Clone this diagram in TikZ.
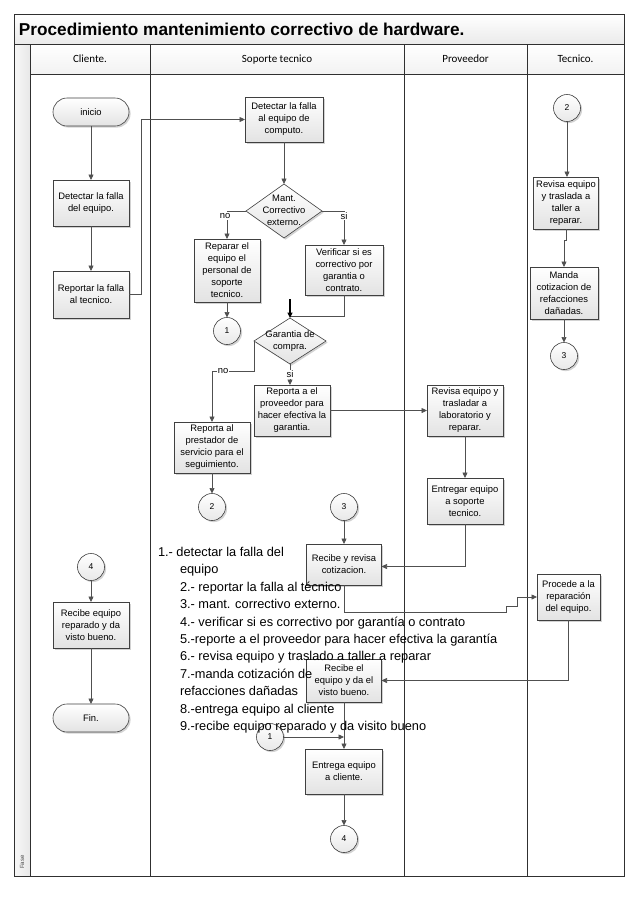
\documentclass[tikz,border=0pt]{standalone}
\usepackage{fontspec}
\setmainfont{Liberation Sans}
\newfontfamily\hdrfnt{Carlito}
\usetikzlibrary{shapes.geometric,shapes.misc,arrows.meta,shadows,calc}
\definecolor{boxline}{HTML}{404040}
\definecolor{arrcol}{HTML}{505050}
\definecolor{lanecol}{HTML}{303030}
\newcommand{\nfnt}{\fontsize{9.4}{12}\selectfont}
\newcommand{\cfnt}{\fontsize{8.5}{10}\selectfont}
\newcommand{\listfnt}{\fontsize{12.8}{17}\selectfont}
\begin{document}
\begin{tikzpicture}[x=1pt,y=-1pt,
  every node/.style={inner sep=0pt, outer sep=0pt},
  shad/.style={drop shadow={shadow xshift=1.6pt, shadow yshift=-1.6pt, fill=black!35, opacity=0.5}},
  proc/.style={rectangle, draw=boxline, line width=0.6pt, top color=white, bottom color=black!11, shad, align=center, font=\nfnt},
  term/.style={rounded rectangle, draw=boxline, line width=0.6pt, top color=white, bottom color=black!11, shad, minimum width=76pt, minimum height=28pt, font=\nfnt},
  conn/.style={circle, draw=boxline, line width=0.6pt, top color=white, bottom color=black!9, shad, minimum size=27pt, font=\cfnt},
  dec/.style={diamond, draw=boxline, line width=0.6pt, top color=white, bottom color=black!11, shad},
  dtext/.style={align=center, font=\nfnt},
  arr/.style={draw=arrcol, line width=0.7pt, -{Triangle[length=5.5pt,width=5pt]}},
  con/.style={draw=arrcol, line width=0.7pt},
  lbl/.style={fill=white, font=\nfnt, inner sep=1pt},
  lane/.style={draw=lanecol, line width=0.8pt},
  hdr/.style={font=\hdrfnt\fontsize{11}{13}\selectfont, text height=7.5pt, text depth=2pt},
  listline/.style={anchor=base west, font=\listfnt}
]
\useasboundingbox (0,0) rectangle (638,903);
\fill[white] (0,0) rectangle (638,903);

% ---------- swimlane frame ----------
\shade[top color=white, bottom color=black!8] (14,14) rectangle (624,44);
\shade[top color=white, bottom color=black!5] (30,44) rectangle (624,74);
\shade[left color=black!3, right color=black!9] (14,44) rectangle (30,876);
\draw[lane] (14,14) rectangle (624,876);
\draw[lane] (14,44) -- (624,44);
\draw[lane] (30,74) -- (624,74);
\draw[lane] (30,44) -- (30,876);
\draw[lane] (150,44) -- (150,876);
\draw[lane] (404,44) -- (404,876);
\draw[lane] (527,44) -- (527,876);

\node[anchor=west, font=\bfseries\fontsize{17.2}{20}\selectfont] (title) at (19,29) {Procedimiento mantenimiento correctivo de hardware.};
\node[hdr] (h1) at (90,59.5) {Cliente.};
\node[hdr] (h2) at (277,59.5) {Soporte tecnico};
\node[hdr] (h3) at (465.5,59.5) {Proveedor};
\node[hdr] (h4) at (575.5,59.5) {Tecnico.};
\node[rotate=90, font=\fontsize{6}{7}\selectfont, text=black!70] (fase) at (22,862) {Fase};

% ---------- Cliente ----------
\node[term] (inicio) at (91,112) {inicio};
\node[proc, minimum width=76pt, minimum height=46pt] (detc) at (91,203) {Detectar la falla\\del equipo.};
\node[proc, minimum width=76pt, minimum height=47pt] (repc) at (91,294.5) {Reportar la falla\\al tecnico.};
\node[conn] (c4a) at (91,567) {4};
\node[proc, minimum width=76pt, minimum height=46pt] (recc) at (91,625) {Recibe equipo\\reparado y da\\visto bueno.};
\node[term] (fin) at (91,718) {Fin.};

% ---------- Soporte tecnico ----------
\node[proc, minimum width=78pt, minimum height=45pt] (dets) at (284,119.5) {Detectar la falla\\al equipo de\\computo.};
\node[dec, minimum width=76pt, minimum height=54pt] (d1) at (284,211) {};
\node[dtext] (d1t) at (284,210) {Mant.\\Correctivo\\externo.};
\node[proc, minimum width=66pt, minimum height=63pt] (repar) at (227,270.5) {Reparar el\\equipo el\\personal de\\soporte\\tecnico.};
\node[conn] (c1a) at (227,331) {1};
\node[proc, minimum width=78pt, minimum height=50pt] (verif) at (344,270) {Verificar si es\\correctivo por\\garantia o\\contrato.};
\node[dec, minimum width=72pt, minimum height=46pt] (d2) at (290,341) {};
\node[dtext] (d2t) at (290,341) {Garantia de\\compra.};
\node[proc, minimum width=76pt, minimum height=51pt] (repprov) at (292,410.5) {Reporta a el\\proveedor para\\hacer efectiva la\\garantia.};
\node[proc, minimum width=76pt, minimum height=51pt] (prest) at (212,447.5) {Reporta al\\prestador de\\servicio para el\\seguimiento.};
\node[conn] (c2a) at (212,507) {2};
\node[conn] (c3a) at (344,507) {3};
\node[proc, minimum width=75pt, minimum height=41pt] (recot) at (344,564.5) {Recibe y revisa\\cotizacion.};
\node[proc, minimum width=75pt, minimum height=43pt] (reok) at (344,680.5) {Recibe el\\equipo y da el\\visto bueno.};
\node[conn] (c1b) at (270,737) {1};
\node[proc, minimum width=77pt, minimum height=45pt] (entc) at (344,771.5) {Entrega equipo\\a cliente.};
\node[conn] (c4b) at (344,839) {4};

% ---------- Proveedor ----------
\node[proc, minimum width=76pt, minimum height=51pt] (revp) at (465,410.5) {Revisa equipo y\\trasladar a\\laboratorio y\\reparar.};
\node[proc, minimum width=76pt, minimum height=46pt] (entp) at (465,501) {Entregar equipo\\a soporte\\tecnico.};

% ---------- Tecnico ----------
\node[conn] (c2t) at (567,108) {2};
\node[proc, minimum width=65pt, minimum height=52pt] (revt) at (566,203) {Revisa equipo\\y traslada a\\taller a\\reparar.};
\node[proc, minimum width=68pt, minimum height=52pt] (manda) at (564,293) {Manda\\cotizacion de\\refacciones\\dañadas.};
\node[conn] (c3t) at (564,356) {3};
\node[proc, minimum width=63pt, minimum height=46pt] (proce) at (568.5,597) {Procede a la\\reparación\\del equipo.};

% ---------- connectors ----------
\draw[arr] (inicio) -- (detc);
\draw[arr] (detc) -- (repc);
\draw[arr] (repc.east) -- ++(12,0) |- (dets.west);
\draw[arr] (dets) -- (d1);
\draw[arr] (d1.west) -| node[lbl, yshift=-5pt, xshift=-2pt]{no} (repar.north);
\draw[arr] (d1.east) -| node[lbl, yshift=-5pt]{si} (verif.north);
\draw[arr] (repar) -- (c1a);
\coordinate (j1) at (290,316);
\coordinate (j0) at (290,299);
\draw[con] (verif.south) |- (j1);
\draw[arr, draw=black, line width=1.4pt] (j0) -- (d2.north);
\coordinate (j2) at (254,371);
\draw[arr] (d2.west) -- (j2) -| (prest.north);
\node[lbl] (nolbl) at (223,371) {no};
\draw[arr] (d2.south) -- node[lbl]{si} (d2.south |- repprov.north);
\draw[arr] (repprov.east) -- (revp.west);
\draw[arr] (prest) -- (c2a);
\draw[arr] (c3a) -- (recot);
\draw[arr] (revp) -- (entp);
\draw[arr] (entp.south) |- ($(recot.east)+(0,2)$);
\coordinate (k1) at (344,612);
\coordinate (k2) at (506,612);
\coordinate (k3) at (506,606);
\coordinate (k4) at (517,606);
\coordinate (k5) at (517,597);
\draw[arr] (recot.south) -- (k1) -- (k2) -- (k3) -- (k4) -- (k5) -- (proce.west);
\draw[arr] (proce.south) |- (reok.east);
\draw[arr] (reok) -- (entc);
\draw[arr] (c1b.east) -- (c1b.east -| reok.south);
\draw[arr] (entc) -- (c4b);
\draw[arr] (c4a) -- (recc);
\draw[arr] (recc) -- (fin);
\draw[arr] (c2t) -- (c2t |- revt.north);
\coordinate (t1) at ($(revt.south)+(0,11)$);
\draw[arr] (revt.south) -- (t1) -| (manda.north);
\draw[arr] (manda) -- (c3t);

% ---------- numbered list ----------
\node[listline] (l1) at (158,556.5) {1.- detectar la falla del};
\node[listline] (l2) at (180,573.9) {equipo};
\node[listline] (l3) at (180,591.3) {2.- reportar la falla al técnico};
\node[listline] (l4) at (180,608.7) {3.- mant. correctivo externo.};
\node[listline] (l5) at (180,626.1) {4.- verificar si es correctivo por garantía o contrato};
\node[listline] (l6) at (180,643.5) {5.-reporte a el proveedor para hacer efectiva la garantía};
\node[listline] (l7) at (180,660.9) {6.- revisa equipo y traslado a taller a reparar};
\node[listline] (l8) at (180,678.3) {7.-manda cotización de};
\node[listline] (l9) at (180,695.7) {refacciones dañadas};
\node[listline] (l10) at (180,713.1) {8.-entrega equipo al cliente};
\node[listline] (l11) at (180,730.5) {9.-recibe equipo reparado y da visito bueno};
\end{tikzpicture}
\end{document}
